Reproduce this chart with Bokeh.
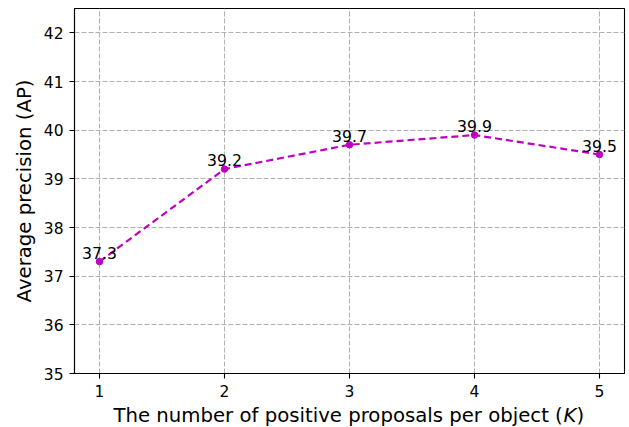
from bokeh.plotting import figure
from bokeh.layouts import column
from bokeh.models import FixedTicker, Range1d, ColumnDataSource
from bokeh.core.properties import value
from bokeh.embed import file_html
from bokeh.resources import INLINE

# data
k_values = [1, 2, 3, 4, 5]
ap_values = [37.3, 39.2, 39.7, 39.9, 39.5]
ap_labels = ["37.3", "39.2", "39.7", "39.9", "39.5"]
x_ticks = [1, 2, 3, 4, 5]
y_ticks = [35, 36, 37, 38, 39, 40, 41, 42]
x_title_parts = ["The number of positive proposals per object (", "K", ")"]
x_title_styles = ["normal", "italic", "normal"]

FONT = "DejaVu Sans"
MAGENTA = "#bf00bf"

p = figure(width=629, height=405, output_backend="svg", toolbar_location=None,
           x_range=Range1d(0.8, 5.2), y_range=Range1d(35, 42.5),
           min_border_left=74, min_border_right=5, min_border_top=8, min_border_bottom=32)

p.outline_line_color = "black"
p.outline_line_width = 1.1
p.background_fill_color = "white"
p.border_fill_color = "white"

for ax in (p.xaxis[0], p.yaxis[0]):
    ax.axis_line_color = "black"
    ax.axis_line_width = 1.1
    ax.major_tick_line_color = "black"
    ax.major_tick_line_width = 1.1
    ax.major_tick_out = 5
    ax.major_tick_in = 0
    ax.minor_tick_line_color = None
    ax.major_label_text_font = FONT
    ax.major_label_text_font_size = "15.5px"
    ax.major_label_text_color = "black"
    ax.major_label_standoff = 6
    ax.axis_label_text_font = FONT
    ax.axis_label_text_font_size = "19.7px"
    ax.axis_label_text_font_style = "normal"
    ax.axis_label_text_color = "black"

p.xaxis.ticker = FixedTicker(ticks=x_ticks)
p.yaxis.ticker = FixedTicker(ticks=y_ticks)
p.yaxis.axis_label = "Average precision (AP)"
p.yaxis.axis_label_standoff = 5

p.grid.grid_line_color = "#b0b0b0"
p.grid.grid_line_dash = "5 2"
p.grid.grid_line_width = 1

src = ColumnDataSource(dict(x=k_values, y=ap_values, t=ap_labels))
p.line("x", "y", source=src, line_color=MAGENTA, line_width=2.2, line_dash="7 4")
p.scatter("x", "y", source=src, marker="circle", size=6.5, fill_color=MAGENTA, line_color=MAGENTA)
p.text("x", "y", text="t", source=src, text_align="center", text_baseline="bottom",
       y_offset=-3, text_font=value(FONT), text_font_size="15.7px", text_color="black")

# strip below the plot holding the x-axis title; its frame is aligned with the
# main plot's frame (pixels 74..624 across), so the range is in page pixels
q = figure(width=629, height=22, output_backend="svg", toolbar_location=None,
           x_range=Range1d(74, 624), y_range=Range1d(0, 22),
           min_border_left=74, min_border_right=5, min_border_top=0, min_border_bottom=0,
           x_axis_type=None, y_axis_type=None)
q.outline_line_color = None
q.grid.visible = False
q.background_fill_color = "white"
q.border_fill_color = "white"
title_x = [113, 563, 576]
for tx, part, style in zip(title_x, x_title_parts, x_title_styles):
    q.text(x=[tx], y=[0.7], text=[part], text_align="left", text_baseline="bottom",
           text_font=value(FONT), text_font_size="19.7px", text_font_style=style,
           text_color="black")

layout = column(p, q, spacing=0)
open("out.html", "w").write(file_html(layout, INLINE))
